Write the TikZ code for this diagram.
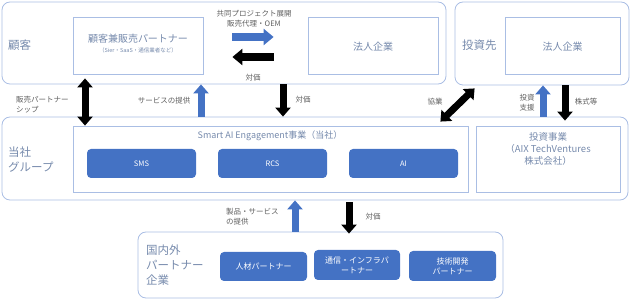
\documentclass[tikz,border=0pt]{standalone}
\usepackage{fontspec}
\setmainfont{Noto Sans CJK JP}
\usetikzlibrary{arrows.meta,calc}
\definecolor{bordc}{RGB}{170,190,228}
\definecolor{txtc}{RGB}{118,138,172}
\definecolor{labc}{RGB}{95,95,95}
\definecolor{fillb}{RGB}{68,114,196}
\tikzset{
  outer/.style={draw=bordc, line width=0.8pt, rounded corners=8pt, inner sep=0pt},
  inner/.style={draw=bordc, line width=0.8pt, inner sep=0pt},
  blk/.style={fill=fillb, rounded corners=4pt, text=white, inner sep=0pt, align=center, font=\fontsize{7.5}{9}\selectfont},
  lab/.style={text=labc, font=\fontsize{7.5}{10}\selectfont, align=center, inner sep=0pt},
  big/.style={text=txtc, font=\fontsize{11.5}{15}\selectfont, align=left, inner sep=0pt},
  mid/.style={text=txtc, font=\fontsize{10}{12}\selectfont, align=center, inner sep=0pt},
  barr/.style={line width=7pt, black, -{Triangle[length=9pt,width=15pt]}},
  darr/.style={line width=7pt, black, {Triangle[length=9pt,width=15pt]}-{Triangle[length=9pt,width=15pt]}},
  uarr/.style={line width=7pt, fillb, -{Triangle[length=9pt,width=15pt]}},
  harrb/.style={line width=8pt, fillb, -{Triangle[length=10pt,width=16pt]}},
  harrk/.style={line width=8pt, black, -{Triangle[length=10pt,width=16pt]}},
}
\begin{document}
\begin{tikzpicture}[x=1pt,y=-1pt]
\useasboundingbox (0,0) rectangle (635,299);
% top row
\node[outer, minimum width=444pt, minimum height=82pt] (cust) at (224,43) {};
\node[big, anchor=west] (custl) at (8,45) {顧客};
\node[inner, minimum width=130pt, minimum height=57pt] (partner) at (138,45.5) {};
\node[mid, text=txtc] (partnert) at (138,39) {顧客兼販売パートナー};
\node[text=txtc, font=\fontsize{5.5}{7}\selectfont, inner sep=0pt] (partners) at (138,50) {（Sier・SaaS・通信業者など）};
\node[inner, minimum width=130pt, minimum height=57pt] (corp1) at (373,45.5) {};
\node[mid] (corp1t) at (373,47) {法人企業};
\node[outer, minimum width=174pt, minimum height=83pt] (invout) at (542,43.5) {};
\node[big, anchor=west] (invl) at (462,45) {投資先};
\node[inner, minimum width=115pt, minimum height=57pt] (corp2) at (562.5,45.5) {};
\node[mid] (corp2t) at (562.5,47) {法人企業};
\draw[harrb] ($(partner.east)+(29,-8.5)$) -- ($(corp1.west)+(-34,-8.5)$);
\draw[harrk] ($(corp1.west)+(-34,11.5)$) -- ($(partner.east)+(29,11.5)$);
\node[lab] (l1) at (254,18.5) {共同プロジェクト展開\\販売代理・OEM};
\node[lab] (l2) at (253,78) {対価};
% middle row
\node[outer, minimum width=626pt, minimum height=83pt] (grp) at (315,158.5) {};
\node[big, anchor=west] (grpl) at (8,160) {当社\\グループ};
\node[inner, minimum width=395pt, minimum height=66pt] (smart) at (270.5,159) {};
\node[mid, font=\fontsize{9}{11}\selectfont] (smartt) at (270,136) {Smart\ AI\ Engagement事業（当社）};
\node[blk, minimum width=109pt, minimum height=29pt] (sms) at (141.5,163.5) {SMS};
\node[blk, minimum width=109pt, minimum height=29pt] (rcs) at (272.5,163.5) {RCS};
\node[blk, minimum width=109pt, minimum height=29pt] (ai) at (403.5,163.5) {AI};
\node[inner, minimum width=144pt, minimum height=66pt] (inv) at (548,159) {};
\node[mid, font=\fontsize{9.5}{12}\selectfont] (invt) at (548,148.5) {投資事業\\（AIX TechVentures\\株式会社）};
% bottom row
\node[outer, minimum width=365pt, minimum height=66pt] (pout) at (320.5,265) {};
\node[big, anchor=west] (poutl) at (146,265) {国内外\\パートナー\\企業};
\node[blk, minimum width=87pt, minimum height=29pt, font=\fontsize{8}{10}\selectfont] (hr) at (263.5,266.5) {人材パートナー};
\node[blk, minimum width=86pt, minimum height=30pt, font=\fontsize{8}{10}\selectfont] (tel) at (357,265) {通信・インフラパ\\ートナー};
\node[blk, minimum width=87pt, minimum height=30pt, font=\fontsize{8}{10}\selectfont] (tech) at (452.5,266) {技術開発\\パートナー};
% column coordinates
\coordinate (xa) at (85,0);
\coordinate (xb) at (201,0);
\coordinate (xc) at (283,0);
\coordinate (xd) at (543,0);
\coordinate (xe) at (565,0);
\coordinate (xf) at (295,0);
\coordinate (xg) at (349,0);
% vertical arrows
\draw[darr] ($(xa |- cust.south)+(0,-6)$) -- (xa |- smart.north);
\draw[uarr] (xb |- grp.north) -- (xb |- cust.south);
\draw[barr] (xc |- cust.south) -- (xc |- grp.north);
\draw[darr] ($(smart.north east)+(-28,-4)$) -- ($(invout.south west)+(20,3)$);
\draw[uarr] (xd |- grp.north) -- (xd |- invout.south);
\draw[barr] (xe |- invout.south) -- ($(xe |- grp.north)+(0,4)$);
\draw[uarr] (xf |- pout.north) -- (xf |- grp.south);
\draw[barr] ($(xg |- grp.south)+(0,2)$) -- ($(xg |- pout.north)+(0,2)$);
% labels
\node[lab, align=left, anchor=west] (l3) at (16,105) {販売パートナー\\シップ};
\node[lab] (l4) at (164,101) {サービスの提供};
\node[lab] (l5) at (303,100) {対価};
\node[lab] (l6) at (435,102) {協業};
\node[lab] (l7) at (527,103) {投資\\支援};
\node[lab] (l8) at (586,102) {株式等};
\node[lab, align=left, anchor=west] (l9) at (226,217) {製品・サービス\\の提供};
\node[lab] (l10) at (373,217) {対価};
\end{tikzpicture}
\end{document}
